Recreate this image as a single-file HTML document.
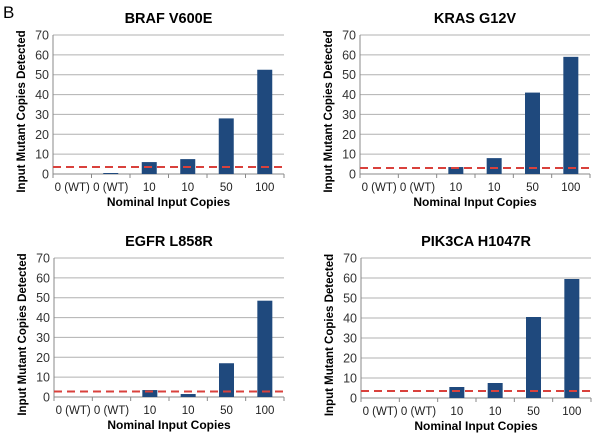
<!DOCTYPE html>
<html><head><meta charset="utf-8"><style>
body{margin:0;background:#fff;}
svg{display:block;font-family:"Liberation Sans",Arial,sans-serif;}
</style></head><body>
<svg id="fig" width="600" height="437">
<text x="3" y="18" font-size="17" fill="#000">B</text>
</svg>
<script>
const categories = ["0 (WT)","0 (WT)","10","10","50","100"];
const yTicks = [0,10,20,30,40,50,60,70];
const titles = ["BRAF V600E","KRAS G12V","EGFR L858R","PIK3CA H1047R"];
const brafValues = [0,0.5,6,7.5,28,52.5];
const krasValues = [0,0,3.5,8,41,59];
const egfrValues = [0,0,3.5,1.5,17,48.5];
const pik3caValues = [0,0,5.5,7.5,40.5,59.5];
const thresholds = [3.5,3,2.8,3.5];
const series = [brafValues,krasValues,egfrValues,pik3caValues];

const NS="http://www.w3.org/2000/svg";
const svg=document.getElementById('fig');
const layouts=[{x0:53,x1:284,yTop:35,yBot:174},{x0:360,x1:590,yTop:35,yBot:174},{x0:54,x1:284,yTop:258,yBot:397},{x0:361,x1:591,yTop:258,yBot:398}];
function mk(tag,attrs,parent){const e=document.createElementNS(NS,tag);for(const k in attrs)e.setAttribute(k,attrs[k]);(parent||svg).appendChild(e);return e;}
series.forEach((vals,p)=>{
  const L=layouts[p];
  const g=mk('g',{});
  
  
  const y=v=>L.yBot-(v/70)*(L.yBot-L.yTop);
  const bw=(L.x1-L.x0)/categories.length;
  const x=i=>L.x0+bw*(i+0.5);
  yTicks.forEach(t=>{
    if(t>0){const gl=mk('line',{x1:L.x0,x2:L.x1,y1:y(t),y2:y(t),stroke:'#b0b0b0','stroke-width':1},g);
      }
    const tl=mk('text',{x:L.x0-4,y:y(t)+4.5,'text-anchor':'end','font-size':12.5,fill:'#333'},g);
    tl.textContent=t;
    
  });
  const ax=mk('line',{x1:L.x0,x2:L.x0,y1:L.yTop,y2:L.yBot,stroke:'#888'},g);
  
  const xa=mk('line',{x1:L.x0,x2:L.x1,y1:L.yBot,y2:L.yBot,stroke:'#888'},g);
  
  for(let i=0;i<=categories.length;i++){mk('line',{x1:L.x0+bw*i,x2:L.x0+bw*i,y1:L.yBot,y2:L.yBot+4,stroke:'#888'},g);}
  vals.forEach((v,i)=>{
    const b=mk('rect',{x:x(i)-7.5,y:y(v),width:15,height:Math.max(0,L.yBot-y(v)),fill:'#1f497d'},g);
    
    const c=mk('text',{x:x(i),y:L.yBot+17,'text-anchor':'middle','font-size':11.5,fill:'#222'},g);
    c.textContent=categories[i];
    
  });
  const th=mk('line',{x1:L.x0,x2:L.x1,y1:y(thresholds[p]),y2:y(thresholds[p]),stroke:'#d9413c','stroke-width':2,'stroke-dasharray':'8,5'},g);
  
  const cx=(L.x0+L.x1)/2;
  const t=mk('text',{x:cx,y:L.yTop-12,'text-anchor':'middle','font-size':14.5,'font-weight':'bold',fill:'#000'},g);
  t.textContent=titles[p];
  
  const xt=mk('text',{x:cx,y:L.yBot+32,'text-anchor':'middle','font-size':12,'font-weight':'bold',fill:'#000'},g);
  xt.textContent='Nominal Input Copies';
  
  const yx=L.x0-28, yc=(L.yTop+L.yBot+14)/2;
  const yt=mk('text',{x:yx,y:yc,'text-anchor':'middle','font-size':11.5,'font-weight':'bold',fill:'#000',transform:`rotate(-90 ${yx} ${yc})`},g);
  yt.textContent='Input Mutant Copies Detected';
  
});
</script>
</body></html>
